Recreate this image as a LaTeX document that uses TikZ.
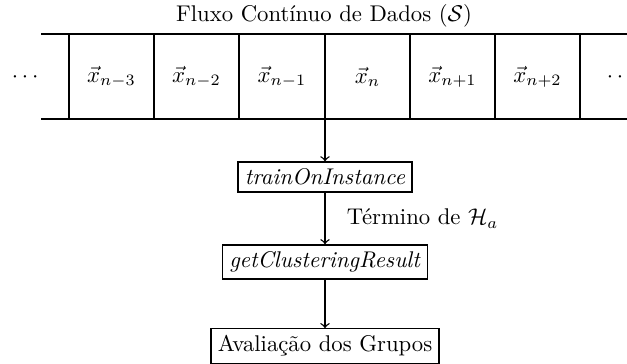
\documentclass[tikz,border=0pt]{standalone}
\usepackage{amsmath}
\begin{document}
\begin{tikzpicture}[x=0.44pt,y=-0.44pt,line width=0.6pt,
  box/.style={draw,inner sep=3pt},
  arr/.style={->},
  cell/.style={inner sep=0pt}]
\useasboundingbox (0,0) rectangle (627,364);
\node (title) at (324,16) {Fluxo Cont\'inuo de Dados ($\mathcal{S}$)};
\draw (41,34) -- (640,34);
\draw (41,119) -- (640,119);
\foreach \x in {69,154,239,325,410,495,580} \draw (\x,34) -- (\x,119);
\node[cell] (c1) at (111.5,77) {$\vec{x}_{n-3}$};
\node[cell] (c2) at (196.5,77) {$\vec{x}_{n-2}$};
\node[cell] (c3) at (282,77) {$\vec{x}_{n-1}$};
\node[cell] (c4) at (367.5,77) {$\vec{x}_{n}$};
\node[cell] (c5) at (452.5,77) {$\vec{x}_{n+1}$};
\node[cell] (c6) at (537.5,77) {$\vec{x}_{n+2}$};
\node (dl) at (27,77) {$\cdots$};
\node (dr) at (622,77) {$\cdots$};
\coordinate (s) at (325,119);
\node[box] (t) at (325,177) {\textit{trainOnInstance}};
\node[box] (g) at (325,262) {\textit{getClusteringResult}};
\node[box] (a) at (325,346) {Avalia\c{c}\~ao dos Grupos};
\draw[arr] (s) -- (t.north);
\draw[arr] (t.south) -- node[right=6pt] {T\'ermino de $\mathcal{H}_a$} (g.north);
\draw[arr] (g.south) -- (a.north);
\end{tikzpicture}
\end{document}
